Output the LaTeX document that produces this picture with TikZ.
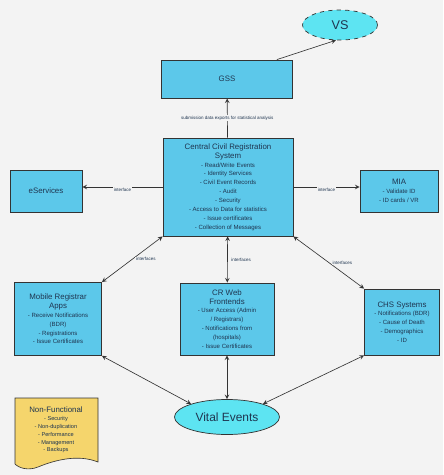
\documentclass[tikz,border=0pt]{standalone}
\usepackage{fontspec}
\setmainfont{Liberation Sans}
\usepackage{tikz}
\usetikzlibrary{shapes.geometric}
\definecolor{boxblue}{HTML}{5CC8EA}
\definecolor{ovalcyan}{HTML}{5DE4F2}
\definecolor{notegold}{HTML}{F5D56C}
\definecolor{linegray}{HTML}{333333}
\definecolor{inkblue}{HTML}{1F3550}
\definecolor{paper}{HTML}{F3F3F3}
\tikzstyle{block} = [draw=linegray, fill=boxblue, text=inkblue, line width=0.6pt, align=center, inner sep=1pt, font=\fontsize{4.3}{6.3}\selectfont]
\tikzstyle{event} = [draw=linegray, fill=ovalcyan, text=inkblue, ellipse, line width=0.5pt, inner sep=1pt]
\tikzstyle{arrow} = [linegray, line width=0.45pt, ->, >=stealth]
\tikzstyle{twoway} = [linegray, line width=0.45pt, <->, >=stealth]
\tikzstyle{lbl} = [font=\fontsize{3.2}{4}\selectfont, text=inkblue, fill=paper, inner sep=0.6pt]
\newcommand{\boxtitle}[1]{{\fontsize{5.6}{6.6}\selectfont #1}}

\begin{document}
\begin{tikzpicture}[x=0.025cm, y=-0.025cm]

\fill[paper] (0,0) rectangle (443,475);
\useasboundingbox (0,0) rectangle (443,475);

\node (vs) [event, dashed, minimum width=1.875cm, minimum height=0.75cm] at (340,25) {\fontsize{9}{10}\selectfont VS};
\node (gss) [block, minimum width=3.275cm, minimum height=0.95cm] at (227,79) {\boxtitle{GSS}};
\node (central) [block, minimum width=3.25cm, minimum height=2.45cm] at (228,187) {\boxtitle{Central Civil Registration}\\\boxtitle{System}\\- Read/Write Events\\- Identity Services\\- Civil Event Records\\- Audit\\- Security\\- Access to Data for statistics\\- Issue certificates\\- Collection of Messages};
\node (eserv) [block, minimum width=1.8cm, minimum height=1.05cm] at (46,191) {\boxtitle{eServices}};
\node (mia) [block, minimum width=1.95cm, minimum height=1.05cm] at (399,191) {\boxtitle{MIA}\\- Validate ID\\- ID cards / VR};
\node (mobile) [block, minimum width=2.175cm, minimum height=1.825cm] at (58,319) {\boxtitle{Mobile Registrar}\\\boxtitle{Apps}\\- Receive Notifications\\(BDR)\\- Registrations\\- Issue Certificates};
\node (crweb) [block, minimum width=2.35cm, minimum height=1.8cm] at (227,319) {\boxtitle{CR Web}\\\boxtitle{Frontends}\\- User Access (Admin\\/ Registrars)\\- Notifications from\\(hospitals)\\- Issue Certificates};
\node (chs) [block, minimum width=1.875cm, minimum height=1.65cm] at (402,322) {\boxtitle{CHS Systems}\\- Notifications (BDR)\\- Cause of Death\\- Demographics\\- ID};
\node (vital) [event, minimum width=2.625cm, minimum height=0.875cm] at (227,417) {\fontsize{8.5}{9.5}\selectfont Vital Events};

\draw [fill=notegold, draw=linegray, line width=0.45pt] (15,398) -- (98,398) -- (98,462) .. controls (78,454) and (55,460) .. (38,467) .. controls (28,471) and (19,468) .. (15,464) -- cycle;
\node (nonfunc) [align=center, text=inkblue, font=\fontsize{4}{5.6}\selectfont] at (56,430) {\boxtitle{Non-Functional}\\- Security\\- Non-duplication\\- Performance\\- Management\\- Backups};

\draw [arrow] ([xshift=-0.4cm]gss.north east) -- (vs.255);
\draw [arrow] (central) -- node[lbl] {submission data exports for statistical analysis} (gss);
\draw [arrow] (central.west) -- node[lbl, below] {interface} (central.west -| eserv.east);
\draw [arrow] (central.east) -- node[lbl, below] {interface} (central.east -| mia.west);
\draw [twoway] (central.south west) -- node[lbl, right=2pt] {interfaces} (mobile.north east);
\draw [twoway] (central) -- node[lbl, right=2pt] {interfaces} (crweb);
\draw [twoway] (central.south east) -- node[lbl, right=2pt] {interfaces} (chs.north west);
\draw [twoway] (mobile.south east) -- (vital.160);
\draw [twoway] (crweb) -- (vital);
\draw [twoway] (chs.south west) -- (vital.20);

\end{tikzpicture}
\end{document}
